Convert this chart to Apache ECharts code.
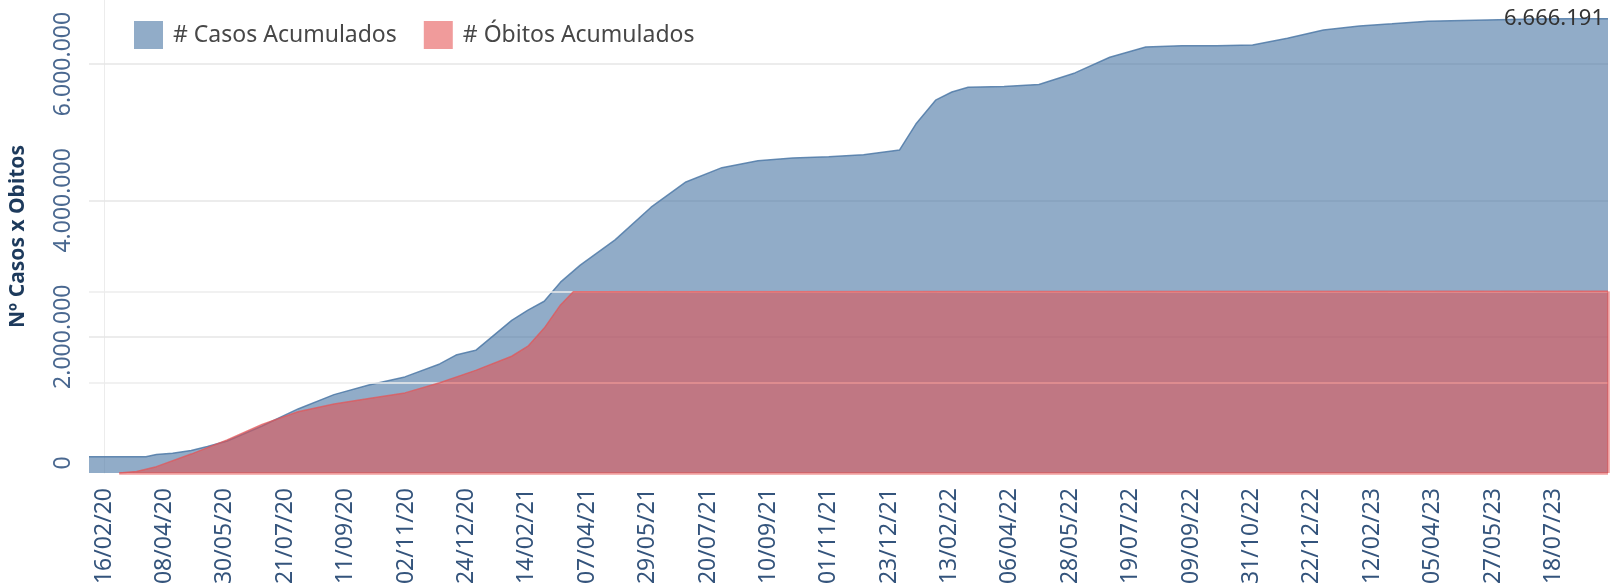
<!DOCTYPE html>
<html>
<head>
<meta charset="utf-8">
<script src="https://cdn.jsdelivr.net/npm/echarts@6/dist/echarts.min.js"></script>
<style>
  html, body { margin: 0; padding: 0; background: #fff; }
  #main { width: 1621px; height: 588px; }
</style>
</head>
<body>
<div id="main"></div>
<script>
// casos acumulados
var casosDatas = ['2020-02-03', '2020-03-23', '2020-04-01', '2020-04-15', '2020-05-01', '2020-05-15',
  '2020-06-01', '2020-07-01', '2020-08-01', '2020-09-01', '2020-10-01', '2020-11-01', '2020-12-01',
  '2020-12-15', '2021-01-01', '2021-02-01', '2021-02-15', '2021-03-01', '2021-03-15', '2021-04-01',
  '2021-05-01', '2021-06-01', '2021-07-01', '2021-08-01', '2021-09-01', '2021-10-01', '2021-11-01',
  '2021-12-01', '2022-01-01', '2022-01-15', '2022-02-01', '2022-02-15', '2022-03-01', '2022-04-01',
  '2022-05-01', '2022-06-01', '2022-07-01', '2022-08-01', '2022-09-01', '2022-10-01', '2022-11-01',
  '2022-12-01', '2023-01-01', '2023-02-01', '2023-03-01', '2023-04-01', '2023-05-01', '2023-06-01',
  '2023-07-01', '2023-08-01', '2023-09-03'];
var casosValores = [240000, 240000, 270000, 290000, 330000, 390000,
  470000, 690000, 940000, 1150000, 1290000, 1410000, 1600000,
  1730000, 1800000, 2240000, 2390000, 2520000, 2800000, 3050000,
  3420000, 3900000, 4270000, 4480000, 4580000, 4620000, 4640000,
  4670000, 4740000, 5120000, 5470000, 5590000, 5660000, 5670000,
  5700000, 5870000, 6100000, 6250000, 6270000, 6270000, 6280000,
  6380000, 6500000, 6560000, 6590000, 6630000, 6640000, 6650000,
  6660000, 6665000, 6666191];

// óbitos acumulados (eixo secundário oculto)
var obitosDatas = ['2020-02-29', '2020-03-15', '2020-04-01', '2020-05-01', '2020-06-01', '2020-07-01',
  '2020-08-01', '2020-09-01', '2020-10-01', '2020-11-01', '2020-12-01', '2021-01-01', '2021-02-01',
  '2021-02-15', '2021-03-01', '2021-03-15', '2021-03-26', '2023-09-03'];
var obitosValores = [0, 1400, 6300, 18800, 32900, 48300,
  60800, 68600, 74100, 79600, 89700, 102000, 116000,
  126000, 144000, 167000, 180200, 180500];

var rotulosX = ['16/02/20', '08/04/20', '30/05/20', '21/07/20', '11/09/20', '02/11/20', '24/12/20',
  '14/02/21', '07/04/21', '29/05/21', '20/07/21', '10/09/21', '01/11/21', '23/12/21', '13/02/22',
  '06/04/22', '28/05/22', '19/07/22', '09/09/22', '31/10/22', '22/12/22', '12/02/23', '05/04/23',
  '27/05/23', '18/07/23'];
var ticksY = [0, 2000000, 4000000, 6000000];
var linhasObitos = [90000, 180000];

var inicio = '2020-02-03', fim = '2023-09-03';

function dia(iso) {
  var p = iso.split('-');
  return Math.round((Date.UTC(+p[0], +p[1] - 1, +p[2]) - Date.UTC(2020, 1, 16)) / 86400000);
}
function diaBr(s) {
  var p = s.split('/');
  return dia('20' + p[2] + '-' + p[1] + '-' + p[0]);
}
function pontos(n) {
  return String(Math.round(n)).replace(/\B(?=(\d{3})+(?!\d))/g, '.');
}

var ticksX = rotulosX.map(diaBr);
var fonte = 'Noto Sans';

var myChart = echarts.init(document.getElementById('main'));
var option = {
  animation: false,
  grid: { left: 81, right: 13, top: 0, bottom: 115 },
  legend: {
    data: ['# Casos Acumulados', '# Óbitos Acumulados'],
    left: 129,
    top: 16,
    icon: 'rect',
    itemWidth: 29,
    itemHeight: 28,
    itemGap: 27,
    itemStyle: { borderWidth: 0 },
    textStyle: { fontSize: 23, color: '#474747', fontFamily: fonte, padding: [0, 0, 0, 5] }
  },
  xAxis: {
    type: 'value',
    min: dia(inicio),
    max: dia(fim),
    axisLine: { show: false },
    axisTick: { show: false },
    splitLine: { show: false },
    axisLabel: {
      customValues: ticksX,
      rotate: 90,
      margin: 15,
      fontSize: 23,
      fontFamily: fonte,
      color: '#34547c',
      formatter: function (v) {
        var i = ticksX.indexOf(v);
        return i >= 0 ? rotulosX[i] : '';
      }
    }
  },
  yAxis: [{
    type: 'value',
    min: 0,
    max: 6940000,
    name: 'Nº Casos x Obitos',
    nameLocation: 'middle',
    nameRotate: 90,
    nameGap: 60,
    nameTextStyle: { fontSize: 21, fontWeight: 'bold', color: '#1d3a5c', fontFamily: fonte },
    axisLine: { show: true, lineStyle: { color: '#ececec', width: 1 } },
    axisTick: { show: false },
    splitLine: { show: false },
    axisLabel: {
      customValues: ticksY,
      rotate: 90,
      margin: 14,
      fontSize: 23,
      fontFamily: fonte,
      color: '#4a6890',
      formatter: function (v) {
        return v === 0 ? '{z|0}' : pontos(v);
      },
      rich: {
        z: { fontSize: 23, fontFamily: fonte, color: '#4a6890', padding: [0, 0, 0, 20] }
      }
    }
  }, {
    type: 'value',
    min: 0,
    max: 470000,
    show: false,
    splitLine: { show: false }
  }],
  series: [{
    name: '# Casos Acumulados',
    type: 'line',
    z: 2,
    showSymbol: false,
    data: casosDatas.map(function (d, i) { return [dia(d), casosValores[i]]; }),
    lineStyle: { color: 'rgba(78,121,167,0.85)', width: 1.5 },
    itemStyle: { color: 'rgba(78,121,167,0.62)' },
    areaStyle: { color: 'rgba(78,121,167,0.62)', opacity: 1 },
    endLabel: {
      show: true,
      align: 'right',
      offset: [-12, 0],
      fontSize: 22,
      fontFamily: fonte,
      color: '#333',
      formatter: function () { return pontos(casosValores[casosValores.length - 1]); }
    },
    markLine: {
      z: 1,
      silent: true,
      symbol: ['none', 'none'],
      label: { show: false },
      lineStyle: { color: '#e6e6e6', width: 1.5, type: 'solid' },
      data: ticksY.slice(1).map(function (v) { return { yAxis: v }; })
    }
  }, {
    name: '# Óbitos Acumulados',
    type: 'line',
    yAxisIndex: 1,
    z: 4,
    showSymbol: false,
    data: obitosDatas.map(function (d, i) { return [dia(d), obitosValores[i]]; }),
    lineStyle: { color: 'rgba(225,87,89,0.75)', width: 1.5 },
    itemStyle: { color: 'rgba(228,76,77,0.56)' },
    areaStyle: { color: 'rgba(228,76,77,0.56)', opacity: 1 },
    markLine: {
      z: 3,
      silent: true,
      symbol: ['none', 'none'],
      label: { show: false },
      lineStyle: { color: '#ececec', width: 1.5, type: 'solid' },
      data: linhasObitos.map(function (v) { return { yAxis: v }; }).concat([
        [{ coord: [dia(obitosDatas[0]), 0], lineStyle: { color: 'rgba(228,76,77,0.55)', width: 2.5 } },
         { coord: [dia(fim), 0] }],
        [{ coord: [dia(fim), 0], lineStyle: { color: 'rgba(228,76,77,0.55)', width: 2.5 } },
         { coord: [dia(fim), obitosValores[obitosValores.length - 1]] }]
      ])
    }
  }]
};
myChart.setOption(option);
</script>
</body>
</html>
